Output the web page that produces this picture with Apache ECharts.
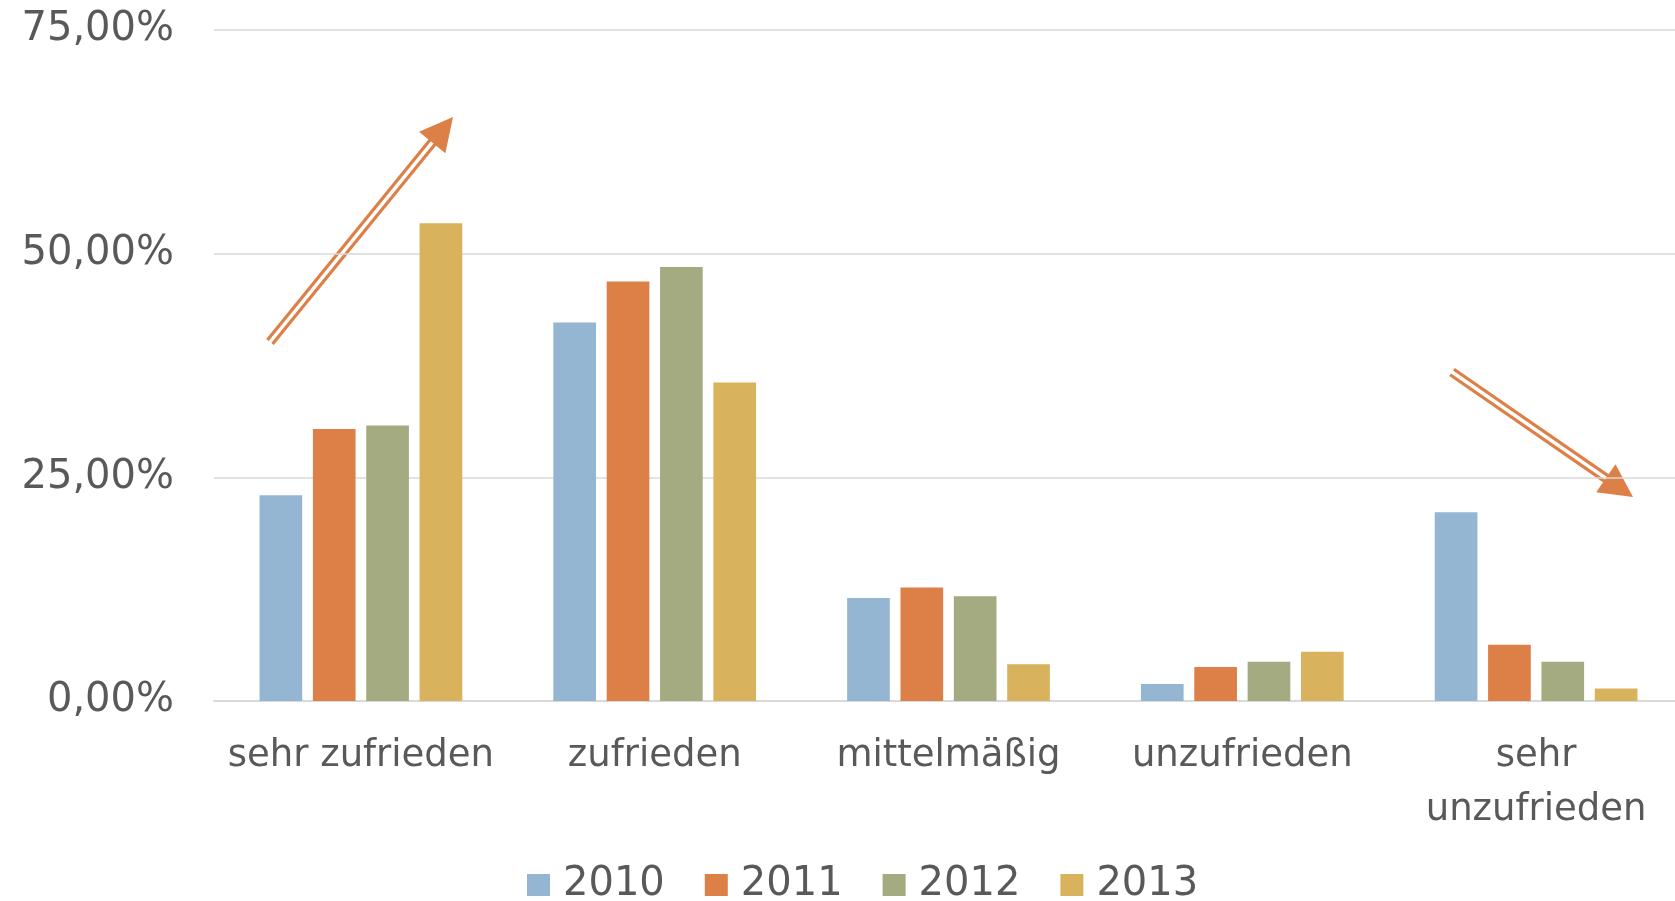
<!DOCTYPE html>
<html>
<head>
<meta charset="utf-8">
<script src="https://cdn.jsdelivr.net/npm/echarts@6/dist/echarts.min.js"></script>
<style>
  html, body { margin: 0; padding: 0; background: #fff; }
  #chart { width: 1675px; height: 901px; }
</style>
</head>
<body>
<div id="chart"></div>
<script>
// Kategorien und Werte (Prozent)
var categories = ["sehr zufrieden", "zufrieden", "mittelmäßig", "unzufrieden", "sehr\nunzufrieden"];
var years = ["2010", "2011", "2012", "2013"];
var values2010 = [23.0, 42.3, 11.5, 1.9, 21.1];
var values2011 = [30.4, 46.9, 12.7, 3.8, 6.3];
var values2012 = [30.8, 48.5, 11.7, 4.4, 4.4];
var values2013 = [53.4, 35.6, 4.1, 5.5, 1.4];
var colors = ["#94B6D2", "#DD8047", "#A5AB81", "#D8B25C"];

var font = "DejaVu Sans";
var textColor = "#595959";

var chart = echarts.init(document.getElementById("chart"), null, { renderer: "canvas" });

function makeSeries(name, data) {
  return {
    name: name,
    type: "bar",
    data: data,
    barGap: "25%",
    barCategoryGap: "31%",
    silent: true
  };
}

// Doppelpfeil (Dekoration)
function doubleArrow(x1, y1, x2, y2, color) {
  var dx = x2 - x1, dy = y2 - y1;
  var len = Math.sqrt(dx * dx + dy * dy);
  var ux = dx / len, uy = dy / len;
  var nx = -uy, ny = ux;
  var headLen = 33, headHalf = 17, off = 3.3;
  var bx = x2 - ux * headLen, by = y2 - uy * headLen;
  var items = [];
  [-1, 1].forEach(function (s) {
    items.push({
      type: "line",
      shape: {
        x1: x1 + nx * off * s, y1: y1 + ny * off * s,
        x2: bx + ux * 6 + nx * off * s, y2: by + uy * 6 + ny * off * s
      },
      style: { stroke: color, lineWidth: 3.2 }
    });
  });
  items.push({
    type: "polygon",
    shape: {
      points: [
        [x2, y2],
        [bx + nx * headHalf, by + ny * headHalf],
        [bx - nx * headHalf, by - ny * headHalf]
      ]
    },
    style: { fill: color }
  });
  return { type: "group", silent: true, children: items };
}

var option = {
  animation: false,
  color: colors,
  grid: { left: 214, top: 30, width: 1469, height: 671, containLabel: false, outerBoundsMode: "none" },
  legend: {
    data: years,
    top: 860,
    left: 522,
    itemWidth: 23,
    itemHeight: 22,
    itemGap: 40,
    icon: "rect",
    textStyle: { fontFamily: font, fontSize: 40, color: textColor, padding: [0, 0, 0, 8] }
  },
  xAxis: {
    type: "category",
    data: categories,
    axisLine: { lineStyle: { color: "#d9d9d9", width: 2 } },
    axisTick: { show: false },
    axisLabel: {
      fontFamily: font, fontSize: 37, color: textColor,
      margin: 28, lineHeight: 54, interval: 0
    }
  },
  yAxis: {
    type: "value",
    min: 0,
    max: 75,
    interval: 25,
    axisLine: { show: false },
    axisTick: { show: false },
    splitLine: { lineStyle: { color: "#d9d9d9", width: 1.5 } },
    axisLabel: {
      fontFamily: font, fontSize: 40, color: textColor, margin: 40,
      padding: [6, 0, 0, 0],
      formatter: function (v) { return v.toFixed(2).replace(".", ",") + "%"; }
    }
  },
  series: [
    makeSeries(years[0], values2010),
    makeSeries(years[1], values2011),
    makeSeries(years[2], values2012),
    makeSeries(years[3], values2013)
  ],
  graphic: [
    doubleArrow(270, 342, 453, 117, "#DD8047"),
    doubleArrow(1452, 372, 1633, 497, "#DD8047")
  ]
};

chart.setOption(option);
</script>
</body>
</html>
